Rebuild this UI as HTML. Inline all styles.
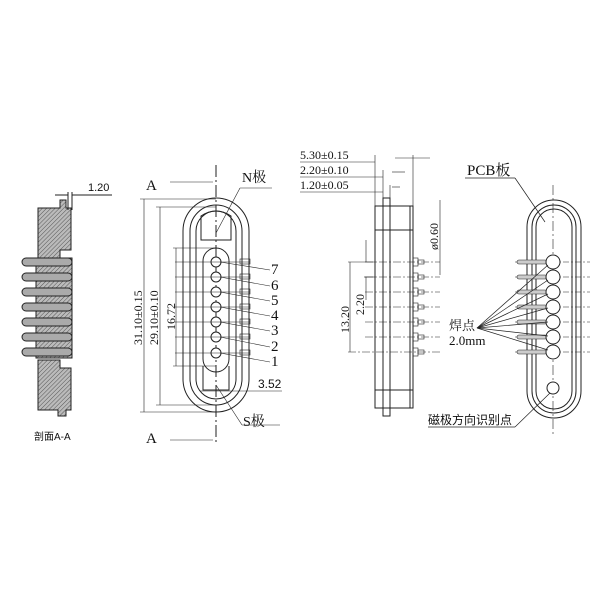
<!DOCTYPE html>
<html><head><meta charset="utf-8"><style>
html,body{margin:0;padding:0;background:#fff;}
svg{display:block}
text{font-family:"Liberation Serif","Noto Serif CJK SC",serif;fill:#111}
.s{font-family:"Liberation Sans","Noto Sans CJK SC",sans-serif}
</style></head><body>
<svg width="600" height="600" viewBox="0 0 600 600" xmlns="http://www.w3.org/2000/svg">
<defs>
<pattern id="h" width="3" height="3" patternUnits="userSpaceOnUse" patternTransform="rotate(45)">
<rect width="3" height="3" fill="#bbb"/><line x1="0" y1="0" x2="0" y2="3" stroke="#555" stroke-width="1"/></pattern>
</defs>
<g stroke="#222" stroke-width="1" fill="none">
<path d="M38 208 H60 V200 H66 V208 H71 V250 H60 V260 H38 Z" fill="url(#h)"/>
<path d="M38 360 H60 V368 H71 V410 H66 V416 H58 V410 H38 Z" fill="url(#h)"/>
<rect x="36" y="258" width="36" height="100" fill="url(#h)"/>
<g fill="#aaa">
<rect x="22" y="258" width="50" height="8" rx="4"/><rect x="22" y="273" width="50" height="8" rx="4"/>
<rect x="22" y="288" width="50" height="8" rx="4"/><rect x="22" y="303" width="50" height="8" rx="4"/>
<rect x="22" y="318" width="50" height="8" rx="4"/><rect x="22" y="333" width="50" height="8" rx="4"/>
<rect x="22" y="348" width="50" height="8" rx="4"/>
</g>
<line x1="68" y1="192" x2="68" y2="210"/><line x1="72" y1="192" x2="72" y2="210"/>
<line x1="55" y1="195" x2="68" y2="195"/><line x1="72" y1="195" x2="112" y2="195"/>
<line x1="216" y1="165" x2="216" y2="445" stroke-dasharray="12 3 2 3"/>
<rect x="183" y="198" width="66" height="214" rx="33"/>
<rect x="190" y="205" width="52" height="200" rx="26"/>
<rect x="196" y="211" width="40" height="188" rx="20"/>
<path d="M201 216 Q216 206 231 216 V240 H201 Z"/>
<rect x="203" y="248" width="26" height="124" rx="13"/>
<path d="M203 366 V390 H229 V366"/>
<g fill="#fff">
<circle cx="216" cy="262" r="5"/><circle cx="216" cy="277" r="5"/><circle cx="216" cy="292" r="5"/>
<circle cx="216" cy="307" r="5"/><circle cx="216" cy="322" r="5"/><circle cx="216" cy="337" r="5"/><circle cx="216" cy="353" r="5"/>
</g>
<g stroke-width="0.6">
<line x1="175" y1="262" x2="250" y2="262"/><line x1="175" y1="277" x2="250" y2="277"/>
<line x1="175" y1="292" x2="250" y2="292"/><line x1="175" y1="307" x2="250" y2="307"/>
<line x1="175" y1="322" x2="250" y2="322"/><line x1="175" y1="337" x2="250" y2="337"/>
<line x1="175" y1="353" x2="250" y2="353"/>
<line x1="220" y1="262" x2="270" y2="270"/><line x1="220" y1="277" x2="270" y2="286"/>
<line x1="220" y1="292" x2="270" y2="301"/><line x1="220" y1="307" x2="270" y2="316"/>
<line x1="220" y1="322" x2="270" y2="331"/><line x1="220" y1="337" x2="270" y2="347"/>
<line x1="220" y1="353" x2="270" y2="362"/>
<line x1="140" y1="199" x2="216" y2="199"/><line x1="140" y1="412" x2="216" y2="412"/>
<line x1="144" y1="199" x2="144" y2="412"/>
<line x1="156" y1="207" x2="216" y2="207"/><line x1="156" y1="405" x2="216" y2="405"/>
<line x1="160" y1="207" x2="160" y2="405"/>
<line x1="173" y1="248" x2="216" y2="248"/><line x1="173" y1="366" x2="216" y2="366"/>
<line x1="176" y1="248" x2="176" y2="366"/>
<line x1="200" y1="391" x2="282" y2="391"/>
<line x1="170" y1="182" x2="213" y2="182"/><line x1="170" y1="440" x2="213" y2="440"/>
<line x1="216" y1="233" x2="240" y2="188"/><line x1="240" y1="188" x2="272" y2="188"/>
<line x1="216" y1="385" x2="242" y2="425"/><line x1="242" y1="425" x2="280" y2="425"/>
</g>
<g stroke-width="0.6">
<rect x="240" y="259" width="10" height="5"/><rect x="240" y="274" width="10" height="5"/><rect x="240" y="289" width="10" height="5"/>
<rect x="240" y="304" width="10" height="5"/><rect x="240" y="319" width="10" height="5"/><rect x="240" y="334" width="10" height="5"/><rect x="240" y="350" width="10" height="5"/>
</g>
<rect x="383" y="198" width="7" height="218"/>
<rect x="375" y="206" width="38" height="202"/>
<line x1="390" y1="206" x2="390" y2="408"/>
<line x1="375" y1="230" x2="413" y2="230"/><line x1="375" y1="390" x2="413" y2="390"/>
<line x1="410" y1="206" x2="410" y2="408"/>
<g stroke-width="0.6">
<line x1="365" y1="262" x2="440" y2="262" stroke-dasharray="8 2 2 2"/><line x1="365" y1="277" x2="440" y2="277" stroke-dasharray="8 2 2 2"/>
<line x1="365" y1="292" x2="440" y2="292" stroke-dasharray="8 2 2 2"/><line x1="365" y1="307" x2="440" y2="307" stroke-dasharray="8 2 2 2"/>
<line x1="365" y1="322" x2="440" y2="322" stroke-dasharray="8 2 2 2"/><line x1="365" y1="337" x2="440" y2="337" stroke-dasharray="8 2 2 2"/>
<line x1="348" y1="352" x2="440" y2="352" stroke-dasharray="8 2 2 2"/>
<line x1="348" y1="262" x2="375" y2="262"/><line x1="350" y1="262" x2="350" y2="352"/>
<line x1="364" y1="277" x2="375" y2="277"/><line x1="366" y1="277" x2="366" y2="300"/><line x1="366" y1="240" x2="366" y2="262"/>
<line x1="300" y1="162" x2="375" y2="162"/><line x1="375" y1="155" x2="375" y2="206"/>
<line x1="300" y1="177" x2="383" y2="177"/><line x1="383" y1="170" x2="383" y2="198"/>
<line x1="300" y1="192" x2="383" y2="192"/><line x1="390" y1="185" x2="390" y2="198"/>
<line x1="413" y1="155" x2="413" y2="206"/><line x1="395" y1="158" x2="430" y2="158"/>
<line x1="392" y1="172" x2="405" y2="172"/><line x1="392" y1="187" x2="400" y2="187"/>
<line x1="440" y1="200" x2="440" y2="275"/>
</g>
<g stroke-width="0.6">
<rect x="413" y="258" width="5" height="8"/><rect x="413" y="273" width="5" height="8"/><rect x="413" y="288" width="5" height="8"/>
<rect x="413" y="303" width="5" height="8"/><rect x="413" y="318" width="5" height="8"/><rect x="413" y="333" width="5" height="8"/><rect x="413" y="348" width="5" height="8"/>
<rect x="418" y="260" width="6" height="4"/><rect x="418" y="275" width="6" height="4"/><rect x="418" y="290" width="6" height="4"/>
<rect x="418" y="305" width="6" height="4"/><rect x="418" y="320" width="6" height="4"/><rect x="418" y="335" width="6" height="4"/><rect x="418" y="350" width="6" height="4"/>
</g>
<line x1="553" y1="185" x2="553" y2="435" stroke-dasharray="10 3 2 3" stroke-width="0.6"/>
<rect x="527" y="200" width="54" height="218" rx="27"/>
<rect x="532" y="205" width="44" height="208" rx="22"/>
<rect x="536" y="209" width="36" height="200" rx="18"/>
<g stroke-width="0.6">
<line x1="515" y1="262" x2="590" y2="262" stroke-dasharray="6 2 2 2"/><line x1="515" y1="277" x2="590" y2="277" stroke-dasharray="6 2 2 2"/>
<line x1="515" y1="292" x2="590" y2="292" stroke-dasharray="6 2 2 2"/><line x1="515" y1="307" x2="590" y2="307" stroke-dasharray="6 2 2 2"/>
<line x1="515" y1="322" x2="590" y2="322" stroke-dasharray="6 2 2 2"/><line x1="515" y1="337" x2="590" y2="337" stroke-dasharray="6 2 2 2"/>
<line x1="515" y1="352" x2="590" y2="352" stroke-dasharray="6 2 2 2"/>
</g>
<g fill="#ccc" stroke-width="0.6">
<rect x="517" y="260" width="30" height="4" rx="2"/><rect x="517" y="275" width="30" height="4" rx="2"/><rect x="517" y="290" width="30" height="4" rx="2"/>
<rect x="517" y="305" width="30" height="4" rx="2"/><rect x="517" y="320" width="30" height="4" rx="2"/><rect x="517" y="335" width="30" height="4" rx="2"/><rect x="517" y="350" width="30" height="4" rx="2"/>
</g>
<g fill="#fff">
<circle cx="553" cy="262" r="7"/><circle cx="553" cy="277" r="7"/><circle cx="553" cy="292" r="7"/>
<circle cx="553" cy="307" r="7"/><circle cx="553" cy="322" r="7"/><circle cx="553" cy="337" r="7"/><circle cx="553" cy="352" r="7"/>
<circle cx="553" cy="388" r="6"/>
</g>
<g stroke-width="0.7">
<line x1="477" y1="328" x2="548" y2="265"/><line x1="477" y1="328" x2="548" y2="280"/>
<line x1="477" y1="328" x2="548" y2="294"/><line x1="477" y1="328" x2="548" y2="308"/>
<line x1="477" y1="328" x2="548" y2="322"/><line x1="477" y1="328" x2="548" y2="336"/>
<line x1="477" y1="328" x2="548" y2="350"/>
<line x1="465" y1="178" x2="515" y2="178"/><line x1="515" y1="178" x2="545" y2="222"/>
<line x1="428" y1="427" x2="515" y2="427"/><line x1="515" y1="427" x2="550" y2="393"/>
</g>
</g>
<text x="34" y="440" font-size="10" class="s">剖面A-A</text>
<text x="88" y="191" font-size="11" class="s">1.20</text>
<text x="146" y="190" font-size="15">A</text>
<text x="146" y="443" font-size="15">A</text>
<text x="242" y="182" font-size="14">N极</text>
<text x="243" y="426" font-size="14">S极</text>
<text x="258" y="388" font-size="12" class="s">3.52</text>
<g font-size="15"><text x="271" y="274">7</text><text x="271" y="290">6</text><text x="271" y="305">5</text><text x="271" y="320">4</text><text x="271" y="335">3</text><text x="271" y="351">2</text><text x="271" y="366">1</text></g>
<g font-size="12" class="s">
<text transform="translate(142 345) rotate(-90)">31.10±0.15</text>
<text transform="translate(158 345) rotate(-90)">29.10±0.10</text>
<text transform="translate(175 330) rotate(-90)">16.72</text>
<text transform="translate(349 333) rotate(-90)">13.20</text>
<text transform="translate(364 315) rotate(-90)">2.20</text>
<text transform="translate(438 250) rotate(-90)">ø0.60</text>
<text x="300" y="159">5.30±0.15</text>
<text x="300" y="174">2.20±0.10</text>
<text x="300" y="189">1.20±0.05</text>
</g>
<text x="467" y="175" font-size="15">PCB板</text>
<text x="449" y="330" font-size="13">焊点</text>
<text x="449" y="345" font-size="13">2.0mm</text>
<text x="428" y="424" font-size="12" class="s">磁极方向识别点</text>
</svg>
</body></html>
